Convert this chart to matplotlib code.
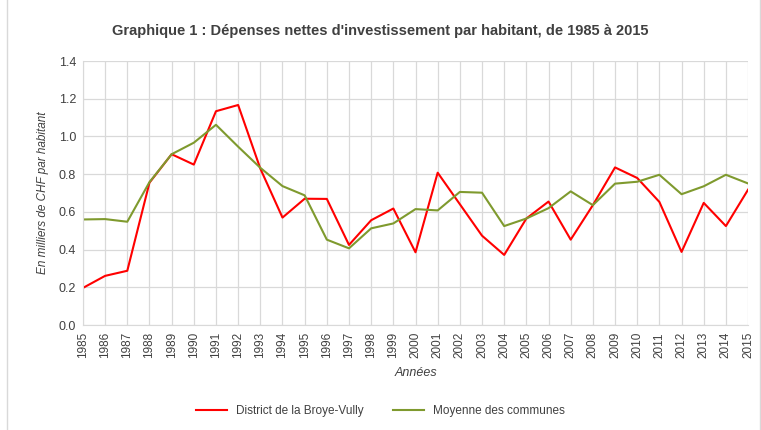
import numpy as np
import matplotlib.pyplot as plt
from matplotlib.patches import Rectangle

years = list(range(1985, 2016))
district = [0.197, 0.261, 0.288, 0.755, 0.906, 0.851, 1.134, 1.167, 0.83, 0.570,
            0.670, 0.669, 0.425, 0.556, 0.618, 0.386, 0.808, 0.641, 0.474, 0.372,
            0.565, 0.655, 0.453, 0.636, 0.836, 0.780, 0.653, 0.388, 0.648, 0.525, 0.718]
communes = [0.560, 0.562, 0.548, 0.758, 0.906, 0.967, 1.062, 0.946, 0.834, 0.737,
            0.688, 0.453, 0.407, 0.513, 0.539, 0.615, 0.608, 0.706, 0.702, 0.525,
            0.565, 0.620, 0.709, 0.636, 0.750, 0.760, 0.797, 0.694, 0.736, 0.797, 0.751]

plt.rcParams['font.family'] = ['Liberation Sans', 'DejaVu Sans']
grey = '#404040'

fig = plt.figure(figsize=(7.61, 4.30), dpi=100)
ax = fig.add_axes([0.109, 0.244, 0.874, 0.614])

ax.plot(years, district, color='#ff0000', linewidth=1.5, label='District de la Broye-Vully')
ax.plot(years, communes, color='#7f9a2e', linewidth=1.5, label='Moyenne des communes')

ax.set_xlim(1985, 2015)
ax.set_ylim(0, 1.4)
ax.set_xticks(years)
ax.set_xticklabels([str(y) for y in years], rotation=90, fontsize=8.5, color=grey)
ax.set_yticks(np.arange(0, 1.41, 0.2))
ax.set_yticklabels(['%.1f' % v for v in np.arange(0, 1.41, 0.2)], fontsize=9, color=grey)
ax.tick_params(length=0, pad=5)
ax.grid(True, color='#d9d9d9', linewidth=0.9)
ax.set_axisbelow(True)
for s in ['top', 'right']:
    ax.spines[s].set_visible(False)
for s in ['left', 'bottom']:
    ax.spines[s].set_color('#d9d9d9')

ax.set_ylabel('En milliers de CHF par habitant', fontsize=8.5, style='italic', color=grey, labelpad=7)
ax.set_xlabel('Années', fontsize=9, style='italic', color=grey, labelpad=6)

fig.text(0.5, 0.928, "Graphique 1 : Dépenses nettes d'investissement par habitant, de 1985 à 2015",
         ha='center', va='center', fontsize=10.5, fontweight='bold', color=grey)

fig.legend(loc='center', bbox_to_anchor=(0.5, 0.045), ncol=2, frameon=False,
           fontsize=8.5, handlelength=2.6, columnspacing=2.5, labelcolor=grey)

fig.patches.append(Rectangle((0.009, -0.01), 0.99, 1.2, transform=fig.transFigure,
                             fill=False, edgecolor='#d9d9d9', linewidth=1))

fig.savefig('out.png', dpi=100)
